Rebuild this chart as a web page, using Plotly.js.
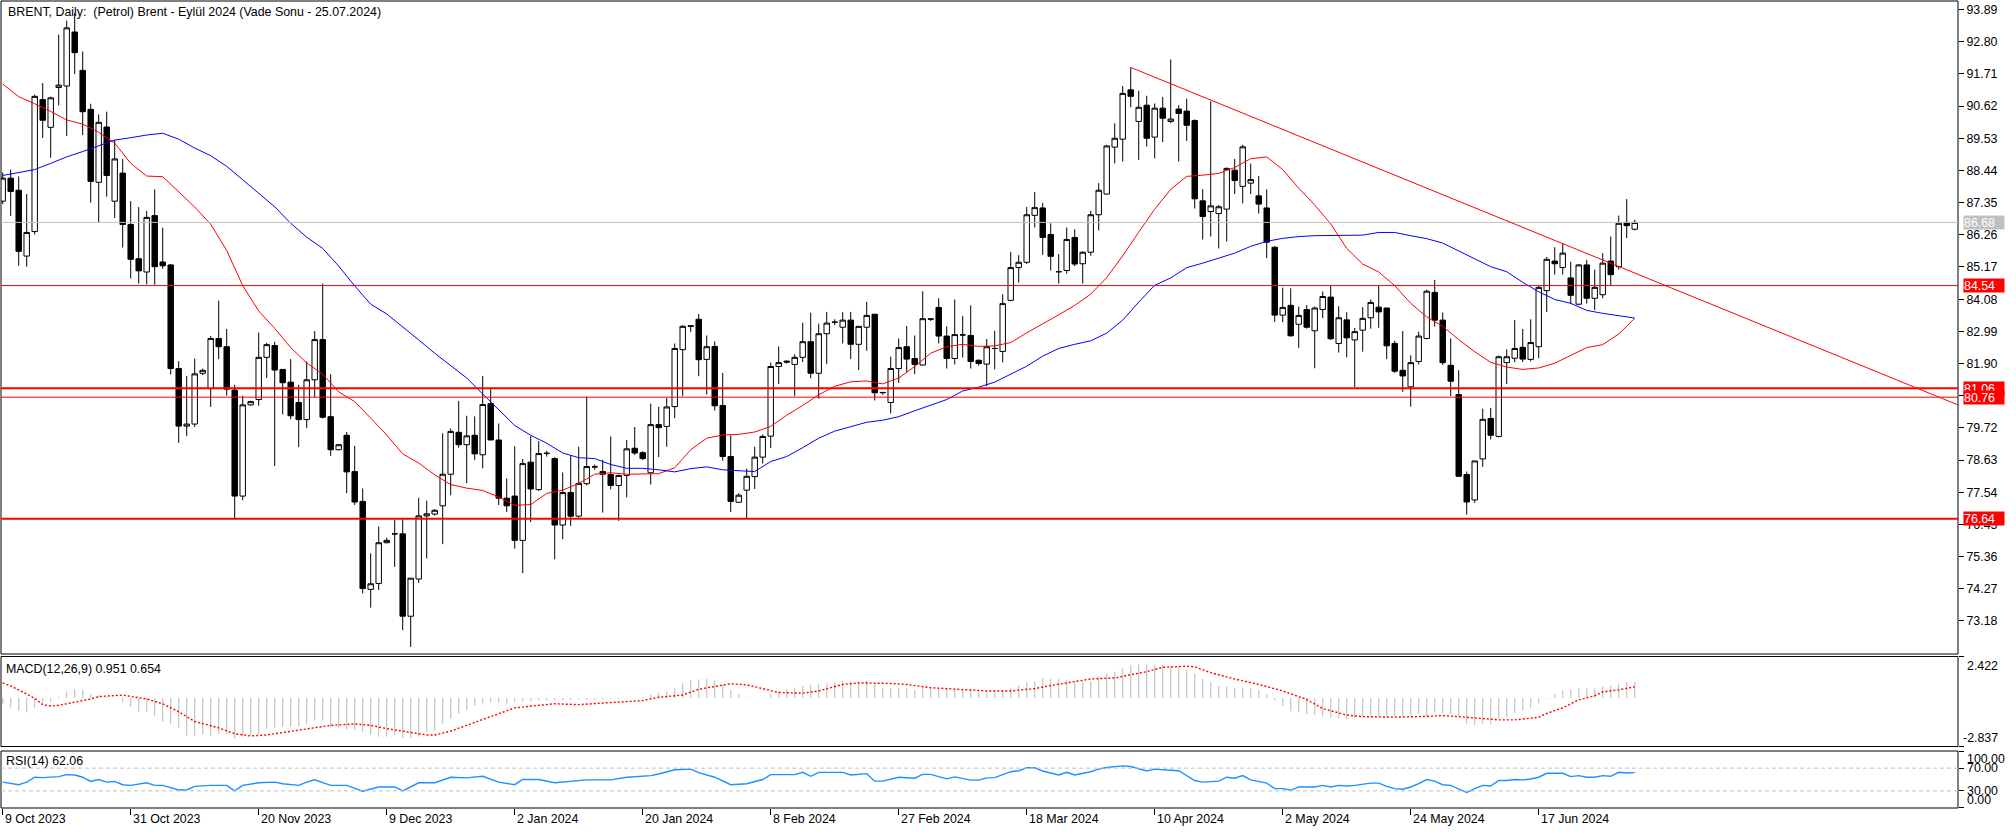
<!DOCTYPE html>
<html><head><meta charset="utf-8">
<script src="https://cdn.plot.ly/plotly-3.0.1.min.js"></script>
<style>html,body{margin:0;padding:0;background:#fff;}#chart{width:2016px;height:834px;}</style>
</head><body><div id="chart"></div>
<script>
// ---------- data ----------
const titleText = 'BRENT, Daily:  (Petrol) Brent - Eylül 2024 (Vade Sonu - 25.07.2024)';
const dateLabels = ['9 Oct 2023','31 Oct 2023','20 Nov 2023','9 Dec 2023','2 Jan 2024','20 Jan 2024','8 Feb 2024','27 Feb 2024','18 Mar 2024','10 Apr 2024','2 May 2024','24 May 2024','17 Jun 2024'];
const dateLabelBars = [0,16,32,48,64,80,96,112,128,144,160,176,192];

const opens = [87.40,88.18,87.77,85.54,86.37,90.84,89.90,91.25,91.30,93.13,
91.83,90.51,88.04,89.91,87.40,88.35,86.61,85.45,85.00,86.91,
85.34,85.24,81.73,79.78,79.85,81.57,81.05,82.75,82.47,81.00,
77.41,80.50,80.68,82.11,82.51,81.70,81.27,80.58,80.00,81.35,
82.71,80.10,78.98,79.47,78.24,77.23,74.25,74.45,75.83,76.13,
76.13,73.34,74.60,76.74,76.80,77.08,78.15,79.57,79.15,79.47,
78.81,80.54,79.31,77.34,77.41,75.91,78.56,77.63,78.85,78.68,
76.43,77.53,76.73,77.83,78.40,78.24,78.14,77.77,78.11,79.03,
78.88,78.20,79.83,79.77,80.44,82.37,83.18,83.40,82.04,82.48,
80.48,78.75,77.20,77.61,78.07,78.73,79.44,81.80,81.98,81.87,
82.11,82.64,81.57,82.91,83.30,83.13,83.37,82.55,83.13,83.57,
80.91,80.58,81.73,82.47,82.07,81.85,83.40,83.80,82.83,82.07,
82.87,82.85,82.01,81.88,82.41,82.31,84.04,85.15,85.33,86.92,
87.17,86.27,85.01,85.05,86.17,85.28,85.67,86.94,87.64,89.23,
89.50,91.17,90.10,90.65,89.57,90.55,90.10,90.52,90.45,90.13,
87.41,87.05,86.98,87.13,88.45,87.90,88.01,87.58,87.17,85.84,
83.54,83.87,83.23,83.73,83.01,83.73,84.15,82.58,83.38,82.70,
83.03,83.45,83.81,83.78,82.58,81.67,81.11,81.97,82.75,84.31,
83.37,81.84,80.85,78.14,77.28,78.67,80.04,79.43,81.93,82.08,
82.45,82.04,82.47,84.37,85.37,85.15,84.80,83.91,85.24,84.11,
84.23,85.37,85.18,86.68,86.45];
const highs = [88.37,88.47,88.24,87.64,91.01,91.40,90.94,93.04,93.51,93.77,
92.47,90.70,90.34,90.43,89.47,88.83,87.40,87.20,87.07,87.80,
86.50,85.27,81.98,81.48,82.07,81.73,82.83,84.03,83.07,81.18,
80.81,80.64,82.95,82.60,82.64,81.70,82.05,81.18,81.97,83.00,
84.61,81.54,79.18,79.58,79.11,77.67,75.47,76.38,76.00,76.61,
76.63,74.63,77.35,77.25,76.97,79.54,79.70,80.63,80.13,80.11,
81.48,81.03,79.87,78.01,79.10,78.67,79.44,79.27,78.94,78.73,
78.21,78.78,79.08,80.78,78.48,78.64,79.43,78.14,79.31,79.75,
78.93,80.54,80.44,80.73,82.58,83.20,83.18,83.58,82.85,82.65,
81.58,79.47,77.51,78.34,79.08,79.50,81.93,82.48,82.01,82.21,
83.28,83.62,83.25,83.65,83.40,83.64,83.65,83.16,83.99,83.57,
80.92,82.13,82.75,83.17,82.85,84.35,83.44,84.11,83.16,84.07,
83.51,83.87,82.04,82.73,83.01,84.25,85.68,85.57,87.20,87.71,
87.34,86.65,85.61,86.51,86.45,85.70,87.07,88.01,89.31,90.04,
91.30,91.93,91.14,90.97,90.71,90.93,92.20,90.65,90.87,90.17,
87.81,90.78,87.27,88.54,88.83,89.31,88.67,88.25,87.80,85.87,
84.47,84.45,83.83,83.88,83.83,84.34,84.54,83.84,83.64,83.10,
83.81,84.07,84.54,83.78,82.67,83.00,82.18,82.98,84.40,84.73,
83.63,82.75,81.67,78.24,78.60,80.37,80.40,82.17,82.38,83.37,
83.07,83.40,84.53,85.51,85.84,85.98,85.35,85.27,85.41,85.08,
85.64,86.20,86.91,87.47,86.77];
const lows = [87.30,86.90,85.21,85.18,86.27,89.54,88.87,90.64,89.61,91.70,
89.64,87.35,86.67,87.55,86.83,85.83,84.78,84.61,84.58,84.57,
85.11,81.53,79.21,79.44,79.75,81.51,80.43,82.05,80.81,76.62,
77.27,80.47,80.47,81.41,78.43,80.18,80.01,79.07,79.71,80.75,
80.04,78.77,78.96,77.51,77.11,74.11,73.63,74.23,75.81,75.01,
72.87,72.30,74.47,75.30,76.75,75.78,77.44,79.05,77.85,78.63,
78.35,79.31,77.11,76.87,75.63,74.80,76.53,77.58,78.75,75.27,
75.95,76.40,76.68,77.77,78.30,76.85,77.64,76.57,77.37,78.80,
78.63,77.80,78.73,79.08,80.05,80.80,82.97,81.47,80.85,80.31,
78.61,76.87,77.18,76.64,77.65,78.51,79.04,81.21,81.90,80.80,
81.95,81.40,80.71,81.88,83.20,82.58,82.05,81.68,82.33,80.65,
80.84,80.21,81.25,81.61,81.54,81.83,83.34,82.58,81.73,81.87,
82.10,81.73,81.83,81.13,81.70,81.94,84.01,84.64,85.27,86.51,
85.58,85.05,84.61,84.94,85.20,84.61,85.55,86.41,87.63,88.68,
88.74,90.58,88.80,89.25,88.85,89.40,90.04,88.74,89.44,87.15,
86.10,86.20,85.80,86.03,87.64,87.33,87.64,86.98,85.47,83.31,
83.30,82.81,82.43,83.08,81.74,83.44,82.70,82.27,82.11,81.10,
82.30,83.08,83.11,82.05,81.58,80.94,80.44,81.87,82.72,83.15,
81.85,80.80,78.07,76.78,77.18,78.40,79.33,79.40,81.21,81.95,
81.95,81.97,82.08,83.64,84.91,84.91,83.91,83.88,83.93,83.71,
84.11,84.54,85.08,86.15,86.41];
const closes = [88.18,87.73,85.70,86.34,90.95,90.14,90.90,91.33,93.27,92.43,
90.43,88.07,90.07,88.27,88.83,86.61,85.43,85.04,86.85,85.18,
85.21,81.73,79.78,79.85,81.55,81.67,82.75,82.47,81.03,77.41,
80.50,80.61,82.11,82.54,81.68,81.25,80.13,80.00,81.35,82.71,
80.08,78.98,79.15,78.23,77.21,74.28,74.44,75.83,75.91,76.13,
73.34,74.63,76.74,76.81,76.93,78.15,79.60,79.15,79.45,78.84,
80.51,79.31,77.34,77.08,75.91,78.51,77.65,78.85,78.86,76.43,
77.53,76.73,77.84,78.41,78.40,78.15,77.77,78.11,79.01,78.87,
78.68,79.83,79.73,80.43,82.41,83.16,83.16,82.03,82.47,80.47,
78.75,77.23,77.44,78.08,78.73,79.43,81.80,81.93,81.95,82.11,
82.64,81.57,82.91,83.27,83.30,83.37,82.55,83.16,83.53,80.91,
80.92,81.73,82.44,82.05,81.87,83.42,83.41,82.83,82.07,82.88,
82.87,81.97,81.90,82.47,82.41,83.93,85.15,85.33,86.94,87.18,
86.17,85.53,85.01,86.10,85.27,85.67,86.94,87.77,89.27,89.53,
91.05,90.95,90.58,89.53,90.55,90.21,90.18,90.37,89.97,87.48,
86.88,87.24,87.21,88.51,88.10,89.24,88.13,87.30,86.01,83.54,
83.80,82.84,83.53,83.13,83.78,84.17,82.74,83.45,82.77,82.98,
83.43,83.97,83.65,82.50,81.64,81.48,81.93,82.83,84.35,83.37,
81.93,81.30,78.08,77.21,78.60,80.01,79.47,82.13,82.13,82.41,
82.05,82.61,84.48,85.43,85.28,85.64,84.21,85.24,84.11,84.48,
85.30,84.91,86.65,86.57,86.68];

// moving averages (red = fast, blue = slow), sampled bars
const maFastBars = [0,2,4,6,8,10,12,14,16,18,20,22,24,26,28,30,32,34,36,38,40,42,44,46,48,50,52,54,56,58,60,62,64,66,68,70,72,74,76,78,80,82,84,86,88,90,92,94,96,98,100,102,104,106,108,110,112,114,116,118,120,122,124,126,128,130,132,134,136,138,140,142,144,146,148,150,152,154,156,158,160,162,164,166,168,170,172,174,176,178,180,182,184,186,188,190,192,194,196,198,200,202,203,204];
const maFastVals = [91.37,90.94,90.70,90.44,90.15,90.01,89.73,89.37,88.68,88.25,88.23,87.72,87.20,86.62,85.73,84.54,83.68,83.09,82.44,81.92,81.54,80.94,80.61,80.05,79.48,78.84,78.53,78.13,77.80,77.68,77.60,77.38,77.10,77.12,77.50,77.61,77.84,78.15,78.20,78.15,78.15,78.17,78.37,78.98,79.37,79.48,79.50,79.58,79.77,80.15,80.48,80.84,81.13,81.28,81.31,81.21,81.41,81.80,82.25,82.47,82.55,82.48,82.50,82.61,82.94,83.24,83.55,83.87,84.25,84.81,85.55,86.35,87.13,87.80,88.24,88.28,88.34,88.54,88.84,88.90,88.47,87.84,87.27,86.63,85.80,85.27,85.00,84.54,83.94,83.48,83.16,82.71,82.30,81.94,81.78,81.70,81.75,81.91,82.17,82.44,82.54,82.90,83.16,83.44];
const maSlowBars = [0,2,4,6,8,10,12,14,16,18,20,22,24,26,28,30,32,34,36,38,40,42,44,46,48,50,52,54,56,58,60,62,64,66,68,70,72,74,76,78,80,82,84,86,88,90,92,94,96,98,100,102,104,106,108,110,112,114,116,118,120,122,124,126,128,130,132,134,136,138,140,142,144,146,148,150,152,154,156,158,160,162,164,166,168,170,172,174,176,178,180,182,184,186,188,190,192,194,196,198,200,202,204];
const maSlowVals = [88.27,88.38,88.47,88.68,88.90,89.08,89.27,89.47,89.55,89.64,89.70,89.50,89.20,88.94,88.58,88.12,87.68,87.21,86.65,86.18,85.80,85.20,84.53,83.91,83.58,83.15,82.70,82.25,81.84,81.41,80.87,80.33,79.80,79.47,79.20,78.87,78.71,78.68,78.48,78.35,78.35,78.30,78.23,78.34,78.40,78.30,78.27,78.24,78.58,78.75,79.05,79.37,79.61,79.75,79.91,79.98,80.10,80.30,80.50,80.68,80.97,81.10,81.27,81.54,81.81,82.15,82.41,82.55,82.67,82.93,83.37,83.98,84.55,84.80,85.15,85.30,85.48,85.64,85.87,86.04,86.14,86.20,86.23,86.24,86.25,86.25,86.34,86.34,86.23,86.13,85.98,85.71,85.44,85.18,85.01,84.65,84.33,84.07,83.94,83.70,83.60,83.53,83.44];

// horizontal levels, current price, trend line
const levels = [84.54, 81.06, 80.76, 76.64];
const currentPrice = 86.68;
const trendBars = [141, 244.4];
const trendPrices = [91.93, 80.50];
const mainTicks = [93.89,92.80,91.71,90.62,89.53,88.44,87.35,86.26,85.17,84.08,82.99,81.90,80.81,79.72,78.63,77.54,76.45,75.36,74.27,73.18];

// MACD (12,26,9): main (histogram) per bar, signal sampled
const macdMain = [-0.35,-0.56,-0.75,-0.85,-0.60,-0.28,-0.23,0.05,0.38,0.53,
0.47,0.24,0.15,0.06,0.00,-0.26,-0.53,-0.79,-0.79,-1.07,
-1.39,-1.54,-1.73,-2.20,-2.20,-2.14,-2.20,-2.10,-2.14,-2.39,
-2.26,-2.20,-2.14,-1.82,-1.73,-1.69,-1.69,-1.67,-1.54,-1.32,
-1.32,-1.73,-1.77,-1.82,-1.88,-2.01,-2.16,-2.26,-2.26,-2.16,
-2.35,-2.35,-2.26,-2.01,-1.92,-1.50,-1.22,-0.92,-0.70,-0.45,
-0.32,-0.26,-0.28,-0.38,-0.23,-0.19,-0.17,-0.15,-0.13,-0.12,
-0.14,-0.12,-0.10,-0.10,-0.12,-0.10,-0.08,-0.06,-0.04,-0.02,
0.06,0.19,0.30,0.38,0.56,0.86,1.05,1.10,1.11,1.02,
0.79,0.47,0.23,0.04,-0.02,0.00,0.23,0.38,0.51,0.60,
0.73,0.77,0.81,0.88,0.92,1.02,0.98,0.98,1.02,0.88,
0.60,0.58,0.58,0.55,0.47,0.55,0.55,0.55,0.55,0.51,
0.47,0.51,0.36,0.32,0.32,0.41,0.60,0.75,0.94,0.98,
1.17,1.11,1.11,1.07,0.92,0.98,0.98,1.26,1.41,1.54,
1.73,1.92,1.97,1.95,1.92,1.92,1.86,1.86,1.67,1.41,
1.11,0.92,0.73,0.66,0.60,0.60,0.55,0.47,0.23,-0.15,
-0.47,-0.77,-0.85,-0.96,-1.00,-1.09,-1.15,-1.18,-1.22,-1.18,
-1.09,-1.09,-1.09,-1.09,-1.09,-1.07,-1.07,-0.92,-1.07,-0.83,
-0.88,-0.94,-1.07,-1.54,-1.58,-1.50,-1.54,-1.17,-1.11,-0.88,
-0.73,-0.60,-0.32,-0.04,0.23,0.43,0.49,0.56,0.56,0.56,
0.68,0.75,0.85,0.94,0.951];
const signalBars = [0,1,2,3,4,5,6,7,8,9,11,12,14,15,16,18,20,22,24,27,29,31,33,36,39,41,44,46,48,50,53,54,56,58,61,63,64,67,69,72,75,78,80,82,85,87,91,93,95,97,100,102,105,107,111,113,116,120,123,126,129,131,134,136,139,141,143,145,148,149,151,154,157,160,163,165,168,170,174,177,180,182,185,187,189,190,192,193,195,197,199,200,202,204];
const signalVals = [0.88,0.70,0.47,0.23,-0.02,-0.39,-0.47,-0.43,-0.34,-0.21,-0.06,0.08,0.15,0.17,0.09,-0.06,-0.34,-0.81,-1.37,-1.75,-2.09,-2.22,-2.16,-1.94,-1.75,-1.60,-1.52,-1.60,-1.79,-1.94,-2.16,-2.16,-1.94,-1.60,-1.09,-0.71,-0.58,-0.43,-0.34,-0.39,-0.30,-0.21,-0.15,0.04,0.17,0.51,0.83,0.77,0.55,0.32,0.28,0.41,0.79,0.88,0.85,0.79,0.60,0.51,0.41,0.41,0.55,0.73,0.98,1.11,1.17,1.35,1.54,1.79,1.86,1.82,1.48,1.11,0.79,0.41,-0.09,-0.62,-1.00,-1.09,-1.12,-1.09,-1.03,-1.09,-1.18,-1.28,-1.28,-1.24,-1.13,-0.90,-0.58,-0.11,0.13,0.36,0.47,0.654];
const macdRange = [-2.837, 2.422];

// RSI(14)
const rsiBars = [0,1,2,3,4,5,7,8,9,10,11,12,13,14,15,16,18,19,20,22,23,24,26,28,29,30,32,34,35,37,38,39,41,43,44,45,47,49,50,52,54,56,58,60,62,64,65,67,69,71,73,76,78,81,82,84,86,87,89,91,93,95,96,99,100,101,102,105,106,108,109,110,112,114,115,116,118,119,121,122,123,124,126,127,128,129,130,132,133,134,136,137,138,140,141,143,144,146,147,149,150,152,153,154,155,156,158,159,160,161,162,164,165,166,167,168,169,171,172,173,174,175,176,177,178,179,180,181,182,183,184,185,186,187,188,189,190,191,192,193,194,195,196,197,198,199,200,201,202,203,204];
const rsiVals = [45.4,42.6,40.9,45.4,54,53.4,55,58.6,58,54,46.6,50,45.4,46.6,40.9,39.7,44.3,39.7,39.7,31.7,31.7,38,39.7,39.7,30,39.7,44.3,45.4,42.6,39.7,45.4,49.4,39.7,39.7,35.1,29.4,36.9,36.9,30,44.3,44.3,54,52.9,55.7,45.4,40.9,50,50,44.3,47.1,49.4,49.4,54,56.9,59.7,67.1,68.3,62,54,40.9,42.6,50,58.6,58.6,62.6,55.7,62.6,62.6,58,60.3,47.1,47.1,54,52.3,59.1,59.1,51.1,54.6,48.9,48.9,52.9,53.4,63.7,65.4,70.6,70.6,64.9,58,62.6,58,63.7,68.3,71.1,74,72.9,64.9,68.3,66.3,65.4,48.3,45.4,47.1,54,52.3,56.9,49.4,43.7,34,34,31.1,36.9,36.9,39.7,36.9,39.7,38.6,39.7,43.7,43.7,38,34,33,36.9,42.6,50,47.1,40.9,39.7,32.9,27.1,34,39.7,38.6,48.3,48.3,50,49.4,51,54,60.9,60.9,60.9,55.1,56.9,54,54,56.9,55.7,62.6,61.4,62.06];
const rsiLevels = [70, 30];
const rsiTicks = [100, 70, 30, 0];

// ---------- drawing ----------
const FONT = 'Liberation Sans, Arial, sans-serif';
const FS = 12.4;
const bars = closes.map((_, i) => i);
const macdLabel = 'MACD(12,26,9) ' + macdMain[macdMain.length - 1].toFixed(3) + ' ' + signalVals[signalVals.length - 1].toFixed(3);
const rsiLabel = 'RSI(14) ' + rsiVals[rsiVals.length - 1].toFixed(2);

const traces = [
  {type:'candlestick', x:bars, open:opens, high:highs, low:lows, close:closes, xaxis:'x', yaxis:'y',
   increasing:{line:{color:'#000', width:1}, fillcolor:'#fff'},
   decreasing:{line:{color:'#000', width:1}, fillcolor:'#000'},
   whiskerwidth:0, hoverinfo:'skip'},
  {type:'scatter', mode:'lines', x:maFastBars, y:maFastVals, xaxis:'x', yaxis:'y', line:{color:'#ff0000', width:1}, hoverinfo:'skip'},
  {type:'scatter', mode:'lines', x:maSlowBars, y:maSlowVals, xaxis:'x', yaxis:'y', line:{color:'#0000ff', width:1}, hoverinfo:'skip'},
  {type:'bar', x:bars, y:macdMain, xaxis:'x', yaxis:'y2', width:0.14, marker:{color:'#c0c0c0', line:{width:0}}, hoverinfo:'skip'},
  {type:'scatter', mode:'lines', x:signalBars, y:signalVals, xaxis:'x', yaxis:'y2', line:{color:'#ff0000', width:1.4, dash:'2px,2px'}, hoverinfo:'skip'},
  {type:'scatter', mode:'lines', x:rsiBars, y:rsiVals, xaxis:'x', yaxis:'y3', line:{color:'#1e90ff', width:1.4}, hoverinfo:'skip'}
];

const mainDom = [0.1908, 1], macdDom = [0.0762, 0.1877], rsiDom = [0, 0.0706];
const shapes = [];
[mainDom, macdDom, rsiDom].forEach(d => shapes.push({type:'rect', xref:'paper', yref:'paper', x0:0, x1:1, y0:d[0], y1:d[1], line:{color:'#000', width:1}, fillcolor:'rgba(0,0,0,0)'}));
const levelWidths = [1, 2, 1, 2];
levels.forEach((v, i) => shapes.push({type:'line', xref:'x domain', yref:'y', x0:0, x1:1, y0:v, y1:v, line:{color:'#ff0000', width:levelWidths[i]}}));
shapes.push({type:'line', xref:'x domain', yref:'y', x0:0, x1:1, y0:currentPrice, y1:currentPrice, line:{color:'#c0c0c0', width:1}});
shapes.push({type:'line', xref:'x', yref:'y', x0:trendBars[0], x1:trendBars[1], y0:trendPrices[0], y1:trendPrices[1], line:{color:'#ff0000', width:1}});
rsiLevels.forEach(v => shapes.push({type:'line', xref:'x domain', yref:'y3', x0:0, x1:1, y0:v, y1:v, line:{color:'#c0c0c0', width:1, dash:'4px,3px'}}));

const ann = [];
const txt = (o) => Object.assign({showarrow:false, font:{family:FONT, size:FS, color:'#000'}}, o);
ann.push(txt({xref:'paper', yref:'paper', x:0, y:1, xanchor:'left', yanchor:'top', xshift:5, yshift:-2, text:titleText}));
ann.push(txt({xref:'paper', yref:'y2 domain', x:0, y:1, xanchor:'left', yanchor:'top', xshift:3, yshift:-3, text:macdLabel}));
ann.push(txt({xref:'paper', yref:'y3 domain', x:0, y:1, xanchor:'left', yanchor:'top', xshift:3, yshift:-1, text:rsiLabel}));
dateLabels.forEach((t, i) => ann.push(txt({xref:'x', yref:'paper', x:dateLabelBars[i], y:0, xanchor:'left', yanchor:'top', xshift:0, yshift:-2, text:t})));
// MACD axis labels (max / min of window)
ann.push(txt({xref:'paper', yref:'y2 domain', x:1, y:1, xanchor:'left', yanchor:'top', xshift:7, yshift:0, text:macdRange[1].toFixed(3)}));
ann.push(txt({xref:'paper', yref:'y2 domain', x:1, y:0, xanchor:'left', yanchor:'bottom', xshift:3, yshift:0, text:macdRange[0].toFixed(3)}));
// RSI axis labels
rsiTicks.forEach(v => {
  const o = {xref:'paper', x:1, xanchor:'left', xshift:7, text:v.toFixed(2)};
  if (v === 100) Object.assign(o, {yref:'y3 domain', y:1, yanchor:'top', yshift:1});
  else if (v === 0) Object.assign(o, {yref:'y3 domain', y:0, yanchor:'bottom', yshift:-1});
  else Object.assign(o, {yref:'y3', y:v, yanchor:'middle'});
  ann.push(txt(o));
});
// price tags
ann.push({xref:'paper', yref:'y', x:1, y:currentPrice, xanchor:'left', yanchor:'middle', xshift:5, showarrow:false,
  text:currentPrice.toFixed(2), bgcolor:'#c0c0c0', borderpad:0, width:40, height:13, align:'left',
  font:{family:FONT, size:FS, color:'#ffffff'}});
levels.forEach(v => ann.push({xref:'paper', yref:'y', x:1, y:v, xanchor:'left', yanchor:'middle', xshift:5, showarrow:false,
  text:v.toFixed(2), bgcolor:'#ff0000', borderpad:0, width:40, height:13, align:'left',
  font:{family:FONT, size:FS, color:'#ffffff'}}));

const layout = {
  width:2016, height:834, margin:{l:1, r:58, t:1, b:26},
  paper_bgcolor:'#fff', plot_bgcolor:'#fff', showlegend:false, hovermode:false,
  boxgap:0.32, boxgroupgap:0,
  font:{family:FONT, size:FS, color:'#000'},
  xaxis:{range:[-0.2125, 244.41], anchor:'y3', tickvals:dateLabelBars, showticklabels:false, ticks:'outside', ticklen:6, tickcolor:'#000',
         showgrid:false, zeroline:false, showline:false, rangeslider:{visible:false}, fixedrange:true},
  yaxis:{domain:mainDom, range:[72.06, 94.18], side:'right', anchor:'x', tickvals:mainTicks, ticktext:mainTicks.map(v => v.toFixed(2)),
         ticks:'outside', ticklen:5, tickcolor:'#000', showgrid:false, zeroline:false, showline:false, tickfont:{family:FONT, size:FS, color:'#000'}},
  yaxis2:{domain:macdDom, range:macdRange, side:'right', anchor:'x', tickvals:macdRange, showticklabels:false, ticks:'outside', ticklen:5, tickcolor:'#000',
          showgrid:false, zeroline:false, showline:false},
  yaxis3:{domain:rsiDom, range:[0, 100], side:'right', anchor:'x', tickvals:rsiTicks, showticklabels:false, ticks:'outside', ticklen:5, tickcolor:'#000',
          showgrid:false, zeroline:false, showline:false},
  shapes:shapes, annotations:ann
};
Plotly.newPlot('chart', traces, layout, {staticPlot:true, displayModeBar:false});
</script></body></html>
